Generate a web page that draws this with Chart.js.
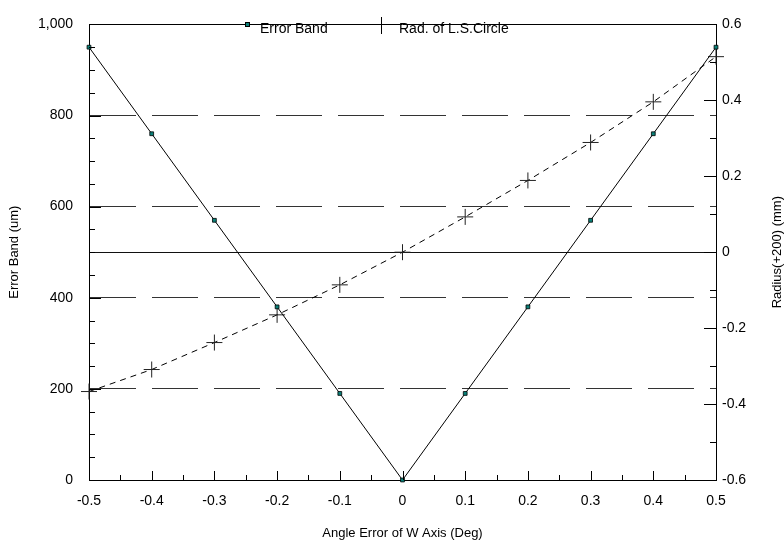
<!DOCTYPE html>
<html>
<head>
<meta charset="utf-8">
<script src="https://cdn.jsdelivr.net/npm/chart.js@4.4.1/dist/chart.umd.min.js"></script>
<style>
  html, body { margin: 0; padding: 0; background: #fff; }
  #chart { display: block; }
</style>
</head>
<body>
<canvas id="chart" width="784" height="544"></canvas>
<script>
// Datos
const angles = [-0.5, -0.4, -0.3, -0.2, -0.1, 0, 0.1, 0.2, 0.3, 0.4, 0.5];
const errorBand = [950, 760, 570, 380, 190, 0, 190, 380, 570, 760, 950];
const radius = [-0.367, -0.309, -0.238, -0.165, -0.086, 0, 0.093, 0.189, 0.289, 0.396, 0.515];
const dashedLevels = [200, 400, 600, 800];
const zeroLevel = 500;
const legendLabels = ['Error Band', 'Rad. of L.S.Circle'];

const FONT = "'Liberation Sans', Arial, sans-serif";
const TEAL = '#0a8078';

Chart.defaults.color = '#000';
Chart.defaults.font.family = FONT;

// Marco superior, marcas hacia dentro, leyenda y título derecho
const framePlugin = {
    id: 'frame',
    afterDraw(chart) {
        const { ctx, chartArea: a, scales } = chart;
        ctx.save();
        ctx.setLineDash([]);
        ctx.lineDashOffset = 0;
        ctx.strokeStyle = '#000';
        ctx.lineWidth = 1;
        ctx.beginPath();
        const top = Math.round(a.top) + 0.5;
        ctx.moveTo(a.left, top);
        ctx.lineTo(a.right, top);

        for (let v = 0; v <= 1000; v += 50) {
            const y = Math.round(scales.y.getPixelForValue(v)) + 0.5;
            const len = v % 200 === 0 ? 12 : 6;
            ctx.moveTo(a.left, y);
            ctx.lineTo(a.left + len, y);
        }
        for (let i = -10; i <= 10; i++) {
            const x = Math.round(scales.x.getPixelForValue(i * 0.05)) + 0.5;
            const len = i % 2 === 0 ? 9 : 5;
            ctx.moveTo(x, a.bottom);
            ctx.lineTo(x, a.bottom - len);
        }
        for (let i = -6; i <= 6; i++) {
            const y = Math.round(scales.y1.getPixelForValue(i * 0.1)) + 0.5;
            const len = i % 2 === 0 ? 12 : 6;
            ctx.moveTo(a.right, y);
            ctx.lineTo(a.right - len, y);
        }
        ctx.stroke();

        // leyenda
        ctx.fillStyle = '#000';
        ctx.fillRect(237, 24, 18, 1);
        ctx.fillRect(374, 24, 15, 1);
        ctx.fillRect(381, 17, 1, 17);
        ctx.fillStyle = TEAL;
        ctx.fillRect(245.5, 22.5, 4, 4);
        ctx.strokeRect(245.5, 22.5, 4, 4);

        ctx.fillStyle = '#000';
        ctx.font = '14px ' + FONT;
        ctx.textBaseline = 'middle';
        ctx.textAlign = 'left';
        ctx.fillText(legendLabels[0], 260, 29);
        ctx.fillText(legendLabels[1], 399, 29);

        // título eje derecho (de abajo hacia arriba)
        ctx.font = '13px ' + FONT;
        ctx.textAlign = 'center';
        ctx.translate(777, (a.top + a.bottom) / 2);
        ctx.rotate(-Math.PI / 2);
        ctx.fillText('Radius(+200) (mm)', 0, 0);
        ctx.restore();
    }
};

const fmt = v => {
    const r = Math.round(v * 10) / 10;
    return r === 0 ? '0' : r.toFixed(1);
};

new Chart(document.getElementById('chart'), {
    type: 'line',
    data: {
        datasets: [{
            label: legendLabels[0],
            data: angles.map((a, i) => ({ x: a, y: errorBand[i] })),
            yAxisID: 'y',
            borderColor: '#000',
            borderWidth: 1,
            pointStyle: 'rect',
            pointRadius: 2.7,
            pointBackgroundColor: TEAL,
            pointBorderColor: '#000',
            pointBorderWidth: 0.8,
            tension: 0,
            clip: false
        }, {
            label: legendLabels[1],
            data: angles.map((a, i) => ({ x: a, y: radius[i] })),
            yAxisID: 'y1',
            borderColor: '#000',
            borderWidth: 1,
            borderDash: [6, 5],
            pointStyle: 'cross',
            pointRadius: 8,
            pointBorderColor: '#222',
            pointBorderWidth: 1,
            tension: 0,
            clip: false
        }]
    },
    options: {
        responsive: false,
        animation: false,
        layout: { padding: { top: 13, left: 0, right: 0, bottom: 0 } },
        plugins: {
            legend: { display: false },
            tooltip: { enabled: false }
        },
        scales: {
            x: {
                type: 'linear',
                min: -0.5,
                max: 0.5,
                afterFit: s => { s.height = 64; },
                ticks: { stepSize: 0.1, padding: 13, font: { size: 14 }, callback: fmt },
                grid: { display: false, drawTicks: false },
                border: { color: '#000', width: 1 },
                title: {
                    display: true,
                    text: 'Angle Error of W Axis (Deg)',
                    font: { size: 13 },
                    padding: { top: 0, bottom: 3 }
                }
            },
            y: {
                position: 'left',
                min: 0,
                max: 1000,
                afterFit: s => { s.width = 89; },
                ticks: {
                    stepSize: 50,
                    autoSkip: false,
                    padding: 16,
                    font: { size: 14 },
                    callback: v => v % 200 === 0 ? v.toLocaleString('en-US') : ''
                },
                grid: {
                    drawTicks: false,
                    lineWidth: 1,
                    color: ctx => {
                        const v = ctx.tick && ctx.tick.value;
                        if (v === zeroLevel) return '#111';
                        if (dashedLevels.includes(v)) return '#333';
                        return 'rgba(0,0,0,0)';
                    }
                },
                border: {
                    color: '#000',
                    width: 1,
                    dash: ctx => ctx.tick && dashedLevels.includes(ctx.tick.value) ? [46, 16] : []
                },
                title: {
                    display: true,
                    text: 'Error Band (um)',
                    font: { size: 13 },
                    padding: { top: 7, bottom: 0 }
                }
            },
            y1: {
                position: 'right',
                min: -0.6,
                max: 0.6,
                afterFit: s => { s.width = 68; },
                ticks: { stepSize: 0.2, padding: 6, font: { size: 14 }, callback: fmt },
                grid: { display: false, drawTicks: false },
                border: { color: '#000', width: 1 }
            }
        }
    },
    plugins: [framePlugin]
});
</script>
</body>
</html>
